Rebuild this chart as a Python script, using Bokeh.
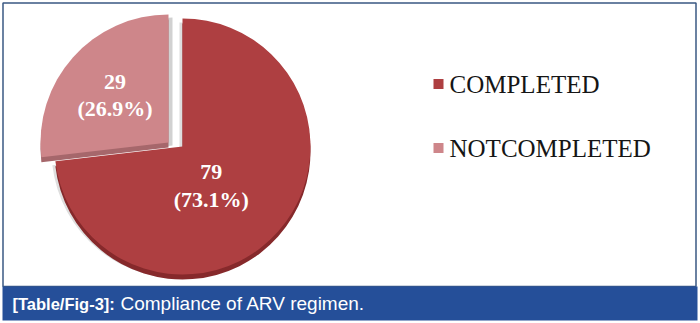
import numpy as np
from bokeh.plotting import figure
from bokeh.models import Range1d
from bokeh.embed import file_html
from bokeh.resources import INLINE
from bokeh.core.properties import value

# ---- data ----
categories = ["COMPLETED", "NOTCOMPLETED"]
counts = [79, 29]
percent_labels = ["73.1%", "26.9%"]
caption_bold = "[Table/Fig-3]:"
caption_text = "Compliance of ARV regimen."

# ---- styles ----
face_colors = ["#AE3F41", "#CE868A"]
rim_colors = ["#86292B", "#A6676B"]
W, H = 700, 323


def Y(y):
    return H - y


p = figure(width=W, height=H, x_range=Range1d(0, W), y_range=Range1d(0, H),
           output_backend="svg", toolbar_location=None, min_border=0)
p.axis.visible = False
p.grid.visible = False
p.outline_line_color = None
p.background_fill_color = "white"
p.border_fill_color = "white"

# frame and caption bar
p.quad(left=[2.5], right=[695.5], bottom=[Y(286)], top=[Y(2.5)],
       fill_color=None, line_color="#3A5883", line_width=1.5)
p.quad(left=[2], right=[697], bottom=[Y(320)], top=[Y(286)],
       fill_color="#254F99", line_color=None)

# ---- pie ----
total = float(sum(counts))
fracs = np.array(counts) / total
cum = np.concatenate([[0.0], np.cumsum(fracs)])
# clockwise from 12 o'clock
a_from = 90 - 360 * cum[:-1]
a_to = 90 - 360 * cum[1:]
starts = a_to            # bokeh draws anticlockwise
ends = a_from
mids = (a_from + a_to) / 2

centers_x = [182, 168]
centers_y = [Y(146), Y(142)]
radii = [128, 128]
label_frac = [0.38, 0.56]
label_angle_shift = [-12, 0]
rim_depth = [5, 5]

# soft shadows
p.wedge(x=[centers_x[0] - 3], y=[centers_y[0] - 4], radius=radii[0],
        start_angle=starts[0], end_angle=ends[0], start_angle_units="deg", end_angle_units="deg",
        fill_color="#BDBDBD", fill_alpha=0.5, line_color=None)
p.wedge(x=[centers_x[1] + 4], y=[centers_y[1] - 3], radius=radii[1],
        start_angle=starts[1], end_angle=ends[1], start_angle_units="deg", end_angle_units="deg",
        fill_color="#BDBDBD", fill_alpha=0.7, line_color=None)

# rims (3D thickness) and faces
for i in range(len(counts)):
    p.wedge(x=[centers_x[i]], y=[centers_y[i] - rim_depth[i]], radius=radii[i],
            start_angle=starts[i], end_angle=ends[i], start_angle_units="deg", end_angle_units="deg",
            fill_color=rim_colors[i], line_color=None)
    p.wedge(x=[centers_x[i]], y=[centers_y[i]], radius=radii[i],
            start_angle=starts[i], end_angle=ends[i], start_angle_units="deg", end_angle_units="deg",
            fill_color=face_colors[i], line_color=None)

# slice labels
lx, ly, lt = [], [], []
for i in range(len(counts)):
    rad = np.deg2rad(mids[i] + label_angle_shift[i])
    d = radii[i] * label_frac[i]
    lx.append(centers_x[i] + d * np.cos(rad))
    ly.append(centers_y[i] + d * np.sin(rad))
    lt.append(f"{counts[i]}\n({percent_labels[i]})")
p.text(x=lx, y=ly, text=lt, text_align="center", text_baseline="middle",
       text_font=value("Liberation Serif"), text_font_style="bold",
       text_font_size="22px", text_color="white", text_line_height=1.1)

# ---- legend ----
leg_x = 438
leg_y = [Y(83.5), Y(147.5)]
p.scatter(x=[leg_x] * len(categories), y=leg_y, marker="square", size=10,
          fill_color=face_colors, line_color=None)
p.text(x=[449] * len(categories), y=[Y(83.5), Y(148)], text=categories,
       text_align="left", text_baseline="middle",
       text_font=value("Liberation Serif"), text_font_size="25px", text_color="#151515")

# ---- caption ----
p.text(x=[12], y=[Y(303)], text=[caption_bold], text_align="left", text_baseline="middle",
       text_font=value("Liberation Sans"), text_font_style="bold", text_font_size="16.5px",
       text_color="white")
p.text(x=[120], y=[Y(303)], text=[caption_text], text_align="left", text_baseline="middle",
       text_font=value("Liberation Sans"), text_font_size="19px", text_color="white")

open("out.html", "w").write(file_html(p, INLINE))
